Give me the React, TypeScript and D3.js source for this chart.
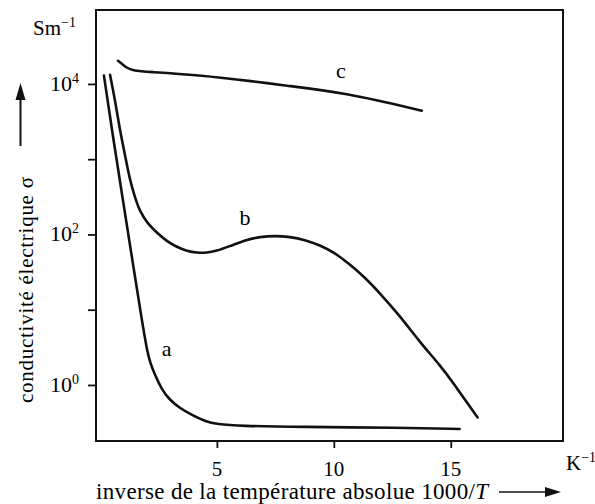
import React, { useEffect, useRef } from "react";
import * as d3 from "d3";

// inverse temperature 1000/T (K^-1) and conductivity (S/m)
const xA = [0.17, 0.51, 0.98, 1.45, 1.79, 2.01, 2.14, 2.35, 2.65, 2.99, 3.42, 3.93, 4.49, 5.0, 5.98, 8.55, 12.82, 15.38];
const sigmaA = [12900, 2450, 288, 34, 7.3, 2.9, 2.0, 1.36, 0.86, 0.63, 0.49, 0.4, 0.33, 0.3, 0.285, 0.277, 0.27, 0.26];

const xB = [0.43, 0.64, 0.85, 1.07, 1.28, 1.5, 1.71, 2.05, 2.44, 2.86, 3.29, 3.72, 4.15, 4.57, 4.96, 5.56, 6.28, 6.84, 7.48, 8.12, 8.76, 9.4, 10.04, 10.68, 11.32, 11.97, 12.82, 13.68, 14.53, 15.17, 15.68, 16.15];
const sigmaB = [13200, 6170, 2450, 1140, 525, 309, 200, 138, 105, 81, 68, 60, 57, 57, 60, 70, 85, 93, 96, 93, 85, 72, 57, 40, 27, 16.6, 8.3, 3.7, 1.85, 1.0, 0.59, 0.37];

const xC = [0.77, 0.94, 1.15, 1.45, 2.01, 4.15, 6.71, 7.69, 10.56, 13.76];
const sigmaC = [20300, 18500, 16300, 14900, 14500, 13200, 10700, 9700, 7600, 4400];

const xTicks = [5, 10, 15];
const yTicks = [1, 10, 100, 1000, 10000];
const yLabels = [
  { v: 10000, exp: "4" },
  { v: 100, exp: "2" },
  { v: 1, exp: "0" },
];
const curveLabels = [
  { name: "a", x: 2.85, y: 2.43 },
  { name: "b", x: 6.2, y: 134 },
  { name: "c", x: 10.3, y: 12000 },
];

const App = () => {
  const ref = useRef<SVGSVGElement>(null);

  useEffect(() => {
    const svg = d3.select(ref.current);
    svg.selectAll("*").remove();

    const font = "'Liberation Serif', 'Times New Roman', serif";
    const left = 96, right = 563, top = 10, bottom = 441;

    const x = d3.scaleLinear().domain([-0.17, 19.8]).range([left, right]);
    const y = d3.scaleLog().domain([0.18, 96000]).range([bottom, top]);

    svg.append("rect").attr("width", 595).attr("height", 504).attr("fill", "#fff");

    // axes (ticks only, labels drawn by hand for superscripts)
    svg
      .append("g")
      .attr("transform", `translate(0,${bottom})`)
      .call(d3.axisBottom(x).tickValues(xTicks).tickSize(7).tickFormat(() => ""))
      .call((g) => g.select(".domain").remove())
      .selectAll("line")
      .attr("stroke", "#111")
      .attr("stroke-width", 1.8);

    svg
      .append("g")
      .attr("transform", `translate(${left},0)`)
      .call(d3.axisLeft(y).tickValues(yTicks).tickSize(8).tickFormat(() => ""))
      .call((g) => g.select(".domain").remove())
      .selectAll("line")
      .attr("stroke", "#111")
      .attr("stroke-width", 1.8);

    // frame
    svg
      .append("rect")
      .attr("x", left)
      .attr("y", top)
      .attr("width", right - left)
      .attr("height", bottom - top)
      .attr("fill", "none")
      .attr("stroke", "#111")
      .attr("stroke-width", 2);

    // x tick labels
    svg
      .selectAll(".xl")
      .data(xTicks)
      .enter()
      .append("text")
      .attr("x", (d) => x(d))
      .attr("y", 476)
      .attr("text-anchor", "middle")
      .style("font-family", font)
      .style("font-size", "21px")
      .text((d) => d);

    // y tick labels 10^n
    yLabels.forEach((l) => {
      const t = svg
        .append("text")
        .attr("x", 79)
        .attr("y", y(l.v) + 7)
        .attr("text-anchor", "end")
        .style("font-family", font)
        .style("font-size", "22px");
      t.append("tspan").text("10");
      t.append("tspan").attr("dy", -8).style("font-size", "14px").text(l.exp);
    });

    // units
    const unitY = svg
      .append("text")
      .attr("x", 33)
      .attr("y", 35)
      .style("font-family", font)
      .style("font-size", "21px");
    unitY.append("tspan").text("Sm");
    unitY.append("tspan").attr("dy", -8).style("font-size", "14px").text("\u22121");

    const unitX = svg
      .append("text")
      .attr("x", 566)
      .attr("y", 470)
      .style("font-family", font)
      .style("font-size", "21px");
    unitX.append("tspan").text("K");
    unitX.append("tspan").attr("dy", -8).style("font-size", "14px").text("\u22121");

    // x axis title with arrow
    const xt = svg
      .append("text")
      .attr("x", 96)
      .attr("y", 499)
      .attr("textLength", 392)
      .attr("lengthAdjust", "spacing")
      .style("font-family", font)
      .style("font-size", "23px");
    xt.append("tspan").text("inverse de la température absolue 1000/");
    xt.append("tspan").style("font-style", "italic").text("T");

    svg.append("line").attr("x1", 499).attr("x2", 548).attr("y1", 492).attr("y2", 492)
      .attr("stroke", "#111").attr("stroke-width", 1.6);
    svg.append("path").attr("d", "M561,492 L545,487 L545,497 Z").attr("fill", "#111");

    // y axis title with arrow
    svg
      .append("text")
      .attr("transform", "translate(33,290) rotate(-90)")
      .attr("text-anchor", "middle")
      .attr("textLength", 226)
      .attr("lengthAdjust", "spacing")
      .style("font-family", font)
      .style("font-size", "21px")
      .text("conductivité électrique σ");

    svg.append("line").attr("x1", 20.5).attr("x2", 20.5).attr("y1", 146).attr("y2", 96)
      .attr("stroke", "#111").attr("stroke-width", 2);
    svg.append("path").attr("d", "M20.5,83 L15.5,100 L25.5,100 Z").attr("fill", "#111");

    // curves
    const line = d3
      .line<[number, number]>()
      .x((d) => x(d[0]))
      .y((d) => y(d[1]))
      .curve(d3.curveBasis);

    const series: [number, number][][] = [
      xA.map((v, i) => [v, sigmaA[i]]),
      xB.map((v, i) => [v, sigmaB[i]]),
      xC.map((v, i) => [v, sigmaC[i]]),
    ];

    svg
      .selectAll(".curve")
      .data(series)
      .enter()
      .append("path")
      .attr("d", (d) => line(d))
      .attr("fill", "none")
      .attr("stroke", "#111")
      .attr("stroke-width", 2.6)
      .attr("stroke-linecap", "round");

    svg
      .selectAll(".cl")
      .data(curveLabels)
      .enter()
      .append("text")
      .attr("x", (d) => x(d.x))
      .attr("y", (d) => y(d.y))
      .attr("text-anchor", "middle")
      .style("font-family", font)
      .style("font-size", "22px")
      .text((d) => d.name);
  }, []);

  return (
    <svg
      ref={ref}
      width={595}
      height={504}
      style={{ position: "absolute", left: 0, top: 0, display: "block" }}
    />
  );
};

export default App;
